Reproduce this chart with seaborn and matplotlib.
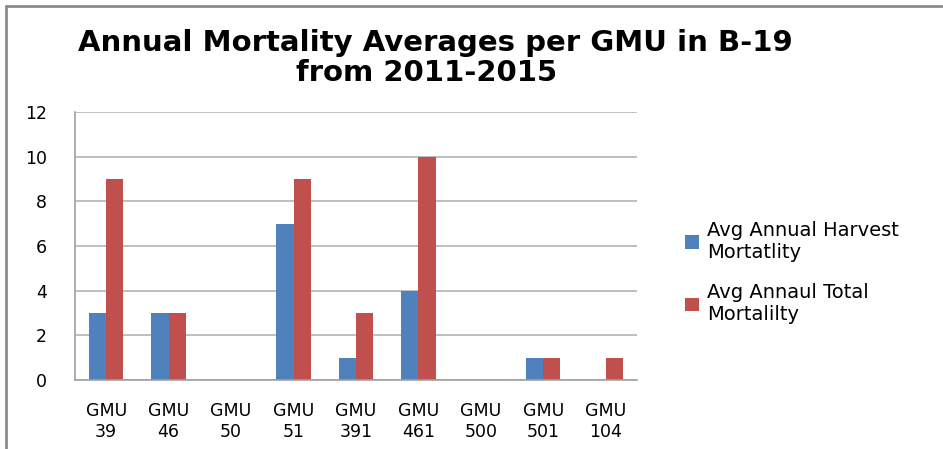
import matplotlib
matplotlib.use('Agg')
import matplotlib.pyplot as plt
import matplotlib.lines as mlines
import seaborn as sns
import pandas as pd

#%% data
gmus = ['GMU\n39', 'GMU\n46', 'GMU\n50', 'GMU\n51', 'GMU\n391',
        'GMU\n461', 'GMU\n500', 'GMU\n501', 'GMU\n104']
harvest = [3, 3, 0, 7, 1, 4, 0, 1, 0]
total = [9, 3, 0, 9, 3, 10, 0, 1, 1]
series = ['Avg Annual Harvest\nMortatlity', 'Avg Annaul Total\nMortalilty']
yticks = [0, 2, 4, 6, 8, 10, 12]

#%%
def main():
    df = pd.DataFrame({'gmu': gmus * 2,
                       'value': harvest + total,
                       'series': [series[0]] * len(gmus) + [series[1]] * len(gmus)})

    sns.set_style('white')
    plt.rcParams['font.family'] = ['DejaVu Sans']
    plt.rcParams['text.color'] = 'black'
    plt.rcParams['xtick.color'] = 'black'
    plt.rcParams['ytick.color'] = 'black'

    fig = plt.figure(figsize=(9.43, 4.49), dpi=100)
    ax = fig.add_axes([0.0795, 0.1537, 0.596, 0.597])

    sns.barplot(data=df, x='gmu', y='value', hue='series', order=gmus,
                palette=['#4F81BD', '#C0504D'], width=0.55, gap=0,
                saturation=1, linewidth=0, ax=ax, legend=True)

    ax.set_ylim(0, 12)
    ax.set_yticks(yticks)
    ax.set_xlim(-0.5, len(gmus) - 0.5)
    ax.yaxis.grid(True, color='#b4b4b4', linewidth=1.2)
    ax.set_axisbelow(True)
    ax.set_xlabel('')
    ax.set_ylabel('')
    for s in ['top', 'right']:
        ax.spines[s].set_visible(False)
    for s in ['left', 'bottom']:
        ax.spines[s].set_color('#a0a0a0')
        ax.spines[s].set_linewidth(1.2)
    ax.tick_params(axis='y', length=0, pad=20, labelsize=12.5, labelcolor='black')
    ax.tick_params(axis='x', length=0, pad=16, labelsize=12.5, labelcolor='black')

    ax.legend(loc='center left', bbox_to_anchor=(1.055, 0.40), frameon=False,
              fontsize=14, handlelength=0.7, handleheight=0.7,
              handletextpad=0.4, labelspacing=1.1, labelcolor='black')

    fig.text(0.462, 0.905, 'Annual Mortality Averages per GMU in B-19',
             ha='center', va='center', fontsize=21, fontweight='bold', color='black')
    fig.text(0.452, 0.838, 'from 2011-2015',
             ha='center', va='center', fontsize=21, fontweight='bold', color='black')

    # frame lines at the left and top of the picture
    fig.add_artist(mlines.Line2D([0.0065, 0.0065], [0, 0.987], color='#8c8c8c', linewidth=2))
    fig.add_artist(mlines.Line2D([0.0065, 0.999], [0.987, 0.987], color='#8c8c8c', linewidth=2))

    fig.savefig('out.png', dpi=100)


if __name__ == '__main__':
    main()
